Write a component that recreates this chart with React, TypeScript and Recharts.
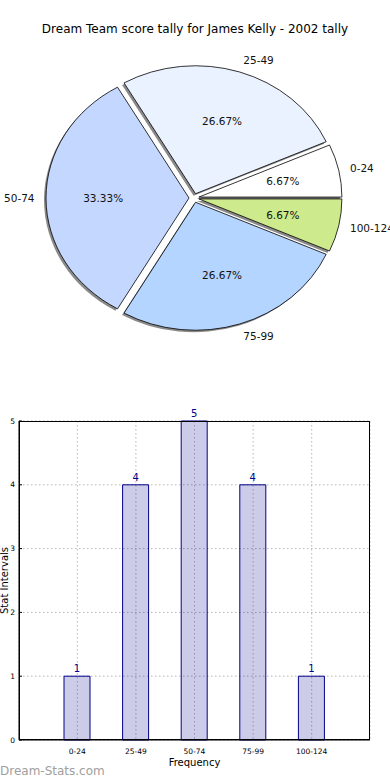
import React from 'react'
import { PieChart, Pie, Cell, BarChart, Bar, XAxis, YAxis, CartesianGrid, LabelList } from 'recharts'

const categories = ['0-24', '25-49', '50-74', '75-99', '100-124']
const tally = [1, 4, 5, 4, 1]
const yTicks = [0, 1, 2, 3, 4, 5]

const sliceColors = ['#ffffff', '#eaf2ff', '#c4d8ff', '#b4d5ff', '#cdea8c']
const FONT = '"DejaVu Sans", sans-serif'
const RY = 0.895 // the pie is squashed a little, like the original
const EXPLODE = 5
const RAD = Math.PI / 180

const pieData = categories.map((name, i) => ({ name, value: tally[i] }))
const barData = categories.map((name, i) => ({ name, count: tally[i] }))
const total = tally.reduce((a, b) => a + b, 0)

function wedgePath(props: any, ox: number, oy: number) {
  const { cx, cy, outerRadius, startAngle, endAngle } = props
  const mid = (startAngle + endAngle) / 2
  const rx = outerRadius
  const ry = outerRadius * RY
  const x0 = cx + EXPLODE * Math.cos(mid * RAD) + ox
  const y0 = cy - EXPLODE * RY * Math.sin(mid * RAD) + oy
  const x1 = x0 + rx * Math.cos(startAngle * RAD)
  const y1 = y0 - ry * Math.sin(startAngle * RAD)
  const x2 = x0 + rx * Math.cos(endAngle * RAD)
  const y2 = y0 - ry * Math.sin(endAngle * RAD)
  const large = Math.abs(endAngle - startAngle) > 180 ? 1 : 0
  return `M${x0},${y0} L${x1},${y1} A${rx},${ry} 0 ${large} 0 ${x2},${y2} Z`
}

const Wedge = (props: any) => (
  <path d={wedgePath(props, 0, 0)} fill={props.fill} stroke="#000" strokeWidth={0.8} strokeLinejoin="round" />
)

const ShadowWedge = (props: any) => (
  <path d={wedgePath(props, -2, 2)} fill="#8a8a8a" stroke="none" />
)

function pieLabel(props: any) {
  const { cx, cy, midAngle, outerRadius, index } = props
  const c = Math.cos(midAngle * RAD)
  const s = Math.sin(midAngle * RAD)
  const bx = cx + EXPLODE * c
  const by = cy - EXPLODE * RY * s
  const rx = outerRadius
  const ry = outerRadius * RY
  const pct = ((tally[index] / total) * 100).toFixed(2) + '%'
  return (
    <g>
      <text x={bx + 1.08 * rx * c} y={by - 1.1 * ry * s} textAnchor={c > 0 ? 'start' : 'end'}
        dominantBaseline="central" fontFamily={FONT} fontSize={10.5} fill="#111">
        {categories[index]}
      </text>
      <text x={bx + 0.6 * rx * c} y={by - 0.6 * ry * s} textAnchor="middle"
        dominantBaseline="central" fontFamily={FONT} fontSize={10.5} fill="#111">
        {pct}
      </text>
    </g>
  )
}

export default function App() {
  return (
    <div style={{ position: 'absolute', left: 0, top: 0, width: 390, height: 780, background: '#fff' }}>
      <div style={{ position: 'absolute', top: 22, width: 390, textAlign: 'center', fontFamily: FONT, fontSize: 12, color: '#000' }}>
        Dream Team score tally for James Kelly - 2002 tally
      </div>

      <div style={{ position: 'absolute', left: 0, top: 0 }}>
        <PieChart width={390} height={380} margin={{ top: 0, right: 0, bottom: 0, left: 0 }}>
          <Pie data={pieData} dataKey="value" cx={194} cy={198} outerRadius={143} startAngle={0} endAngle={360}
            stroke="none" shape={ShadowWedge} inactiveShape={ShadowWedge} activeShape={ShadowWedge}
            isAnimationActive={false} />
          <Pie data={pieData} dataKey="value" cx={194} cy={198} outerRadius={143} startAngle={0} endAngle={360}
            shape={Wedge} inactiveShape={Wedge} activeShape={Wedge} label={pieLabel} labelLine={false}
            isAnimationActive={false}>
            {pieData.map((d, i) => <Cell key={d.name} fill={sliceColors[i]} />)}
          </Pie>
        </PieChart>
      </div>

      <div style={{ position: 'absolute', left: 0, top: 400 }}>
        <BarChart width={390} height={380} data={barData} margin={{ top: 21, right: 20, bottom: 10, left: 0 }}>
          <CartesianGrid stroke="#b5b5b5" strokeDasharray="1.5 2.5" />
          <XAxis dataKey="name" height={30} padding={{ left: 29, right: 29 }} tickLine={false}
            axisLine={{ stroke: '#000' }} tick={{ fontSize: 7.5, fill: '#000', fontFamily: FONT }} tickMargin={3}
            label={{ value: 'Frequency', position: 'insideBottom', offset: 4, fontSize: 10, fill: '#000', fontFamily: FONT }} />
          <YAxis width={19} domain={[0, 5]} ticks={yTicks} tickSize={-3} tickMargin={7}
            tickLine={{ stroke: '#000' }} axisLine={{ stroke: '#000' }}
            tick={{ fontSize: 7.5, fill: '#000', fontFamily: FONT }}
            label={{ value: 'Stat Intervals', angle: -90, position: 'insideLeft', offset: 4, fontSize: 10, fill: '#000', fontFamily: FONT, style: { textAnchor: 'middle' } }} />
          <Bar dataKey="count" barSize={26} fill="#00008b" fillOpacity={0.2} stroke="#00008b" strokeWidth={1}
            isAnimationActive={false}>
            <LabelList dataKey="count" position="top" offset={4} fill="#00008b" fontSize={10} fontFamily={FONT} />
          </Bar>
        </BarChart>
        {/* axes frame, as matplotlib draws it */}
        <div style={{ position: 'absolute', left: 19, top: 21, width: 351, height: 319, border: '1px solid #000', boxSizing: 'border-box', pointerEvents: 'none' }} />
      </div>

      <div style={{ position: 'absolute', left: 0, top: 764, fontFamily: FONT, fontSize: 12, color: '#a0a0a0' }}>
        Dream-Stats.com
      </div>
    </div>
  )
}
